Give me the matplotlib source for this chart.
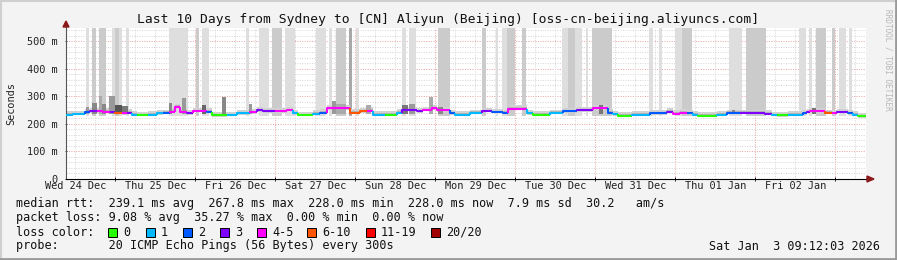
import numpy as np
import matplotlib
matplotlib.use("Agg")
import matplotlib.pyplot as plt
from matplotlib.patches import Rectangle, Polygon

plt.rcParams['font.family'] = ['DejaVu Sans Mono']

# median rtt per segment (hours since start of window, ms, loss class)
seg_start = [0, 2.1, 5.7, 7.2, 9.3, 11.1, 13.2, 14.7, 16.8, 18.3, 19.8, 21.3, 24.6, 27.3, 29.1,
             31.2, 32.7, 34.2, 36.3, 38.1, 42.3, 43.8, 48.3, 51.3, 55.2, 57.3, 59.1, 62.7, 66.3,
             68.1, 69.6, 74.1, 76.2, 78.3, 85.2, 88.2, 90.3, 92.1, 95.7, 99.3, 100.8, 105.3, 107.1,
             109.8, 111.3, 115.2, 116.7, 121.2, 124.8, 127.8, 131.1, 132.6, 138.3, 140.1, 145.2,
             149.1, 153.3, 158.1, 162.6, 164.1, 165.6, 169.8, 175.2, 178.2, 180.3, 182.1, 184.2,
             186.3, 188.1, 189.6, 195.3, 198.3, 202.2, 205.2, 209.7, 211.8, 213.3, 216.6, 221.1,
             222.3, 223.2, 227.7, 229.8, 231.3, 234.6, 236.1, 237.6]
seg_end = 240.0
median_ms = [233, 236, 243, 246, 246, 244, 243, 240, 239, 241, 234, 232, 233, 238, 240,
             244, 262, 244, 239, 247, 244, 231, 232, 239, 242, 249, 246, 245, 250,
             238, 232, 237, 241, 256, 241, 246, 248, 234, 233, 241, 250, 245, 250,
             256, 249, 238, 234, 240, 247, 243, 240, 255, 239, 233, 240,
             246, 249, 256, 241, 235, 230, 234, 238, 238, 244, 237, 241,
             238, 233, 230, 234, 240, 240, 240, 237, 232, 231, 233, 238,
             243, 246, 240, 238, 243, 238, 233, 228]
loss_class = [1, 1, 2, 3, 4, 4, 3, 5, 4, 3, 1, 0, 1, 1, 2,
              4, 4, 4, 3, 4, 2, 0, 1, 1, 4, 3, 3, 4, 4,
              1, 0, 1, 2, 4, 5, 5, 4, 1, 0, 1, 3, 3, 4,
              4, 4, 2, 1, 1, 3, 2, 2, 4, 1, 0, 1,
              2, 3, 4, 2, 1, 0, 1, 2, 2, 3, 4, 4,
              2, 1, 0, 1, 2, 3, 3, 3, 1, 0, 1, 2,
              3, 4, 5, 4, 3, 2, 1, 0]

# loss periods where some pings timed out (start h, end h, intensity 1-3)
loss_start = [6.0, 7.8, 9.9, 13.8, 14.7, 15.9, 18.0, 30.9, 39.0, 40.8, 54.0, 57.9, 61.8, 65.7,
              75.0, 78.9, 81.0, 84.9, 87.0, 100.8, 102.9, 111.6, 124.8, 129.0, 130.8, 132.3,
              136.8, 148.8, 150.6, 152.7, 156.0, 157.8, 174.9, 177.9, 182.7, 184.8, 198.9,
              204.0, 219.9, 222.9, 225.0, 229.8, 231.9, 234.9]
loss_stop = [6.9, 9.0, 12.0, 14.7, 15.9, 16.8, 18.9, 36.6, 39.9, 42.9, 54.9, 60.9, 64.8, 68.7,
             78.0, 79.8, 84.0, 85.8, 87.9, 102.0, 105.0, 115.2, 126.0, 129.6, 132.3, 134.7,
             138.0, 150.6, 152.7, 154.8, 156.6, 163.8, 176.1, 178.8, 184.8, 187.8, 202.8,
             210.0, 222.0, 223.8, 228.0, 230.7, 234.0, 235.8]
loss_level = [1, 2, 2, 1, 2, 1, 1, 1, 2, 1, 1, 1, 2, 1,
              1, 1, 2, 3, 1, 1, 1, 2, 2, 1, 1, 2,
              2, 1, 2, 1, 1, 2, 1, 1, 1, 2, 1,
              2, 1, 1, 2, 2, 1, 1]

# smoke spikes (slow pings)
spike_start = [6.0, 7.8, 9.9, 10.8, 12.9, 14.7, 16.8, 30.9, 34.8, 40.8, 46.8, 54.9, 79.8, 81.0,
               90.0, 100.8, 102.9, 108.9, 111.6, 159.9, 199.8, 223.8]
spike_stop = [6.9, 9.3, 10.8, 12.0, 14.7, 16.8, 18.6, 31.8, 36.0, 42.0, 48.0, 55.8, 81.0, 84.0,
              91.5, 102.6, 104.7, 110.1, 113.1, 161.1, 200.7, 225.0]
spike_top = [262, 275, 300, 272, 300, 268, 266, 275, 293, 270, 297, 271, 283, 274,
             270, 268, 271, 297, 262, 270, 252, 258]
spike_shade = ['#999999', '#888888', '#aaaaaa', '#888888', '#999999', '#555555', '#777777',
               '#888888', '#999999', '#666666', '#888888', '#999999', '#999999', '#aaaaaa',
               '#aaaaaa', '#777777', '#999999', '#aaaaaa', '#888888', '#777777', '#888888',
               '#777777']

loss_colors = ['#26ff00', '#00b8ff', '#0059ff', '#7e00ff', '#ff00ff', '#ff5500', '#ff0000', '#a10000']
loss_labels = ['0', '1', '2', '3', '4-5', '6-10', '11-19', '20/20']
level_colors = {1: '#dedede', 2: '#cbcbcb', 3: '#a8a8a8'}

day_labels = ['Wed 24 Dec', 'Thu 25 Dec', 'Fri 26 Dec', 'Sat 27 Dec', 'Sun 28 Dec',
              'Mon 29 Dec', 'Tue 30 Dec', 'Wed 31 Dec', 'Thu 01 Jan', 'Fri 02 Jan']
start_hour = 9.2  # window starts 09:12 Wed 24 Dec

W, H = 897, 260
fig = plt.figure(figsize=(W / 100, H / 100), dpi=100, facecolor='#f3f3f3')
ax = fig.add_axes([66 / W, 81 / H, 800 / W, 151 / H])
ax.set_facecolor('white')
ymax = 548
ax.set_xlim(0, seg_end)
ax.set_ylim(0, ymax)

# grid
for v in range(20, ymax, 20):
    if v % 100:
        ax.axhline(v, color='#d4d4d4', lw=0.7, ls=(0, (1, 1.5)), zorder=0)
for v in range(100, ymax, 100):
    ax.axhline(v, color='#eaa0a0', lw=0.7, ls=(0, (1, 1.5)), zorder=0)
midnights = np.arange(24 - start_hour, seg_end, 24)
for k in range(-1, 11):
    for q in (6, 12, 18):
        t = 24 - start_hour + 24 * k + q
        if 0 < t < seg_end:
            ax.axvline(t, color='#d4d4d4', lw=0.7, ls=(0, (1, 1.5)), zorder=0)
for t in midnights:
    ax.axvline(t, color='#eaa0a0', lw=0.7, ls=(0, (1, 1.5)), zorder=0)

# timeouts
for a, b, lv in zip(loss_start, loss_stop, loss_level):
    ax.add_patch(Rectangle((a, 228), b - a, 1000, color=level_colors[lv], lw=0, zorder=1))

# smoke
edges = seg_start + [seg_end]
vals = np.array(median_ms + [median_ms[-1]], dtype=float)
ax.fill_between(edges, vals - 5, vals + 12, step='post', color='#d2d2d2', lw=0, zorder=2)
ax.fill_between(edges, vals - 2, vals + 5, step='post', color='#b4b4b4', lw=0, zorder=2)
for a, b, top, c in zip(spike_start, spike_stop, spike_top, spike_shade):
    ax.add_patch(Rectangle((a, 235), b - a, top - 235, color=c, lw=0, zorder=2))

# median line
for i in range(len(seg_start)):
    t0 = seg_start[i]
    t1 = edges[i + 1]
    prev = median_ms[i - 1] if i > 0 else median_ms[i]
    ax.plot([t0, t0, t1], [prev, median_ms[i], median_ms[i]], color=loss_colors[loss_class[i]],
            lw=1.5, solid_capstyle='butt', zorder=3)

# axes look
for s in ('top', 'right'):
    ax.spines[s].set_visible(False)
ax.spines['left'].set_color('#555555')
ax.spines['bottom'].set_color('black')
ax.spines['left'].set_linewidth(0.8)
ax.spines['bottom'].set_linewidth(0.8)
ax.spines['left'].set_bounds(0, ymax + 10)
ax.spines['bottom'].set_bounds(0, seg_end + 1)
ax.set_yticks(range(0, 501, 100))
ax.set_yticklabels(['0', '100 m', '200 m', '300 m', '400 m', '500 m'])
ax.set_xticks(midnights)
ax.set_xticklabels([])
ax.tick_params(axis='y', length=2, width=0.6, pad=5, labelsize=7.4, colors='#222222',
               direction='inout')
ax.tick_params(axis='x', length=3, width=0.6, direction='inout')
noons = 12 - start_hour + 24 * np.arange(len(day_labels))
for t, lab in zip(noons, day_labels):
    ax.text(t, -6, lab, ha='center', va='top', fontsize=7.4, color='#222222', clip_on=False)
ax.set_ylabel('Seconds', fontsize=7.4, color='#222222', labelpad=8)

# arrows
fig.patches.append(Polygon([[63 / W, (H - 27) / H], [69 / W, (H - 27) / H], [66 / W, (H - 21) / H]],
                           closed=True, color='#8b1a1a', transform=fig.transFigure))
fig.patches.append(Polygon([[867 / W, (H - 176) / H], [867 / W, (H - 182) / H], [874 / W, (H - 179) / H]],
                           closed=True, color='#8b1a1a', transform=fig.transFigure))

# title and watermark
fig.text(448 / W, (H - 19) / H, 'Last 10 Days from Sydney to [CN] Aliyun (Beijing) [oss-cn-beijing.aliyuncs.com]',
         ha='center', va='center', fontsize=9.4, color='#111111')
fig.text(888 / W, (H - 60) / H, 'RRDTOOL / TOBI OETIKER', rotation=-90, ha='center', va='center',
         fontsize=5.6, color='#b8b8b8')

# legend
lx = 16 / W
fs = 8.5
fig.text(lx, (H - 204) / H, 'median rtt:  239.1 ms avg  267.8 ms max  228.0 ms min  228.0 ms now  7.9 ms sd  30.2   am/s',
         va='center', fontsize=fs, color='#111111')
fig.text(lx, (H - 218) / H, 'packet loss: 9.08 % avg  35.27 % max  0.00 % min  0.00 % now',
         va='center', fontsize=fs, color='#111111')
fig.text(lx, (H - 232) / H, 'loss color:', va='center', fontsize=fs, color='#111111')
box_x = [108, 146, 183, 220, 257, 307, 366, 431]
for bx, c, lab in zip(box_x, loss_colors, loss_labels):
    fig.patches.append(Rectangle((bx / W, (H - 237) / H), 9 / W, 9 / H, facecolor=c, edgecolor='black',
                                 lw=0.7, transform=fig.transFigure))
    fig.text((bx + 15) / W, (H - 232) / H, lab, va='center', fontsize=fs, color='#111111')
fig.text(lx, (H - 246) / H, 'probe:       20 ICMP Echo Pings (56 Bytes) every 300s',
         va='center', fontsize=fs, color='#111111')
fig.text(880 / W, (H - 246) / H, 'Sat Jan  3 09:12:03 2026', ha='right', va='center',
         fontsize=fs, color='#111111')

# frame
fig.add_artist(plt.Line2D([0, 1], [1 - 1 / H, 1 - 1 / H], color='#cfcfcf', lw=1.5))
fig.add_artist(plt.Line2D([1 / W, 1 / W], [0, 1], color='#cfcfcf', lw=1.5))
fig.add_artist(plt.Line2D([0, 1], [1 / H, 1 / H], color='#9a9a9a', lw=2))
fig.add_artist(plt.Line2D([1 - 1 / W, 1 - 1 / W], [0, 1], color='#9a9a9a', lw=2))

fig.savefig('out.png', dpi=100, facecolor=fig.get_facecolor())
